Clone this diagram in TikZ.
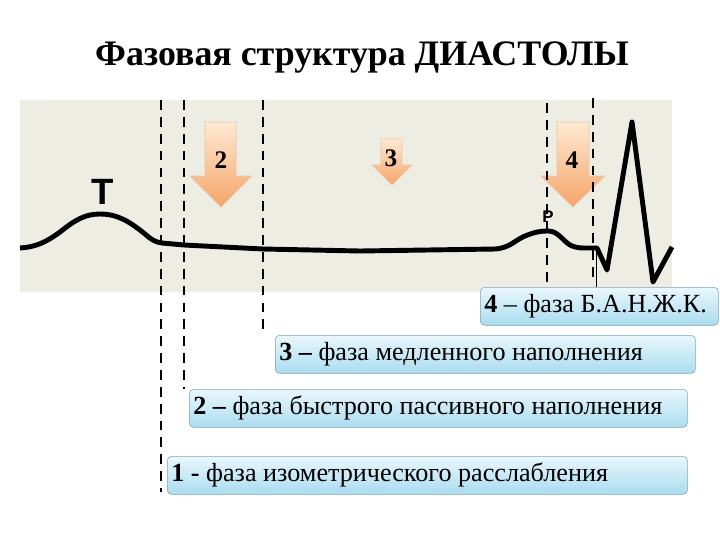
\documentclass[tikz,border=0pt]{standalone}
\usepackage{fontspec}
\setmainfont{Liberation Serif}
\newfontfamily\sansfont{Liberation Sans}
\usetikzlibrary{positioning}

\definecolor{ecgback}{HTML}{EDEDE3}
\definecolor{boxtop}{HTML}{EAF7FC}
\definecolor{boxbottom}{HTML}{A9DCEF}
\definecolor{boxedge}{HTML}{7FA5B5}
\definecolor{arrowtop}{HTML}{FFE9D4}
\definecolor{arrowbottom}{HTML}{F5A468}
\definecolor{arrowedge}{HTML}{E9C6A4}

\begin{document}
\begin{tikzpicture}[
            x=0.025cm, y=-0.025cm,
            box/.style={draw=boxedge, rounded corners=3pt, top color=boxtop, bottom color=boxbottom, anchor=north west, minimum height=0.95cm, inner xsep=0.1cm, align=flush left, font=\fontsize{18.6}{20}\selectfont},
            phase/.style={line width=2pt, dash pattern=on 7pt off 5pt},
            arrowfill/.style={top color=arrowtop, bottom color=arrowbottom, draw=arrowedge, line width=0.4pt},
            num/.style={font=\fontsize{18}{20}\selectfont\bfseries},
            ecg/.style={line width=3.5pt, line join=round}
            ]
            
            \useasboundingbox[fill=white] (0,0) rectangle (720,540);
            
            % título
            \node (title) at (362,57) {\fontsize{25.5}{28}\selectfont\bfseries Фазовая структура ДИАСТОЛЫ};
            
            % фон ЭКГ
            \fill[ecgback] (20,100) rectangle (672,292);
            
            % стрелки
            \shade[arrowfill] (205,122) -- (236,122) -- (236,176) -- (252,176) -- (221,207) -- (190,176) -- (205,176) -- cycle;
            \shade[arrowfill] (381,139) -- (402,139) -- (402,165) -- (412,165) -- (392,185) -- (372,165) -- (381,165) -- cycle;
            \shade[arrowfill] (557,122) -- (589,122) -- (589,176) -- (605,176) -- (573,207) -- (541,176) -- (557,176) -- cycle;
            \node[num] (n2) at (221,160) {2};
            \node[num] (n3) at (391,158) {3};
            \node[num] (n4) at (572,160) {4};
            
            % ЭКГ
            \draw[ecg] (20,248) .. controls (35,247) and (45,243) .. (60,232)
                .. controls (75,220) and (85,214) .. (100,214)
                .. controls (118,214) and (130,222) .. (145,234)
                .. controls (152,240) and (155,242) .. (162,243)
                -- (184,245) -- (263,249) -- (360,251) -- (495,249)
                .. controls (510,248) and (515,240) .. (525,236)
                .. controls (535,232) and (540,231) .. (548,231)
                .. controls (558,231) and (562,240) .. (570,245)
                .. controls (574,247) and (578,248) .. (584,248)
                -- (597,248) -- (607,270) -- (632,122) -- (653,282) -- (672,247);
            \node[font=\fontsize{26}{28}\selectfont\sansfont\bfseries] (T) at (103,192) {T};
            \node[font=\fontsize{12}{14}\selectfont\sansfont\bfseries] (P) at (548,217) {P};
            
            % фазы
            \node[box, text width=5.75cm] (b4) at (480,287) {\textbf{4} – фаза Б.А.Н.Ж.К.};
            \node[box, text width=10.3cm] (b3) at (275,335) {\textbf{3 –} фаза медленного наполнения};
            \node[box, text width=12.25cm] (b2) at (189,389) {\textbf{2 –} фаза быстрого пассивного наполнения};
            \node[box, text width=12.8cm] (b1) at (167,456) {\textbf{1 -} фаза изометрического расслабления};
            
            % границы фаз
            \coordinate (l1) at (161,100);
            \coordinate (l1end) at (161,492);
            \coordinate (l2) at (184,100);
            \coordinate (l3) at (263,100);
            \coordinate (l4) at (547,103);
            \coordinate (l5) at (593,98);
            \coordinate (l5end) at (593,282);
            \coordinate (q) at (596,248);
            \draw[phase] (l1) -- (l1end);
            \draw[phase] (l2) -- (l2 |- b2.north);
            \draw[phase] (l3) -- (l3 |- b3.north);
            \draw[phase] (l4) -- (l4 |- b4.north);
            \draw[phase] (l5) -- (l5end);
            \draw[line width=0.6pt] (q) -- (q |- b4.north);
            
        \end{tikzpicture}
\end{document}
